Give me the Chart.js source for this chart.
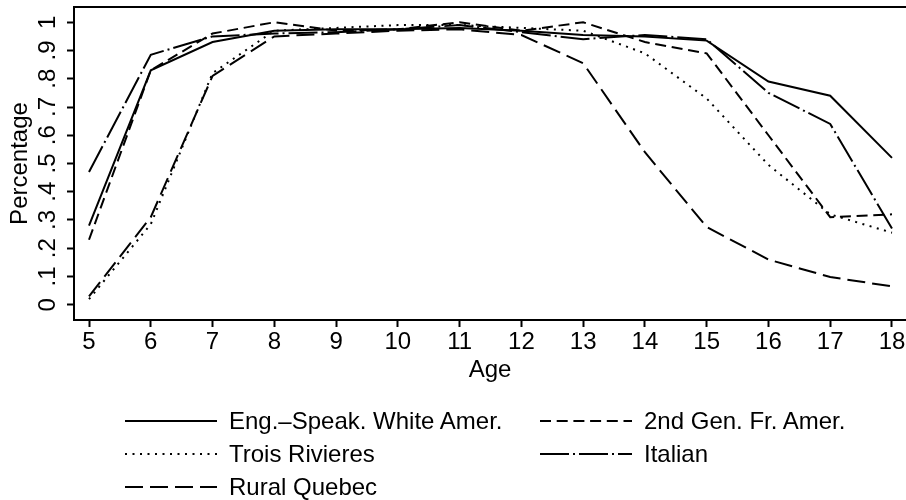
<!DOCTYPE html>
<html>
<head>
<meta charset="utf-8">
<script src="https://cdn.jsdelivr.net/npm/chart.js@4.4.1/dist/chart.umd.min.js"></script>
<style>
  html, body { margin: 0; padding: 0; background: #fff; overflow: hidden; }
  #wrap { position: relative; width: 906px; height: 500px; }
  #legend { position: absolute; left: 125px; top: 404px; display: grid; grid-template-columns: 415px auto;
            font-family: "Liberation Sans", Arial, sans-serif; font-size: 24px; color: #000; }
  .item { display: flex; align-items: center; height: 33px; white-space: nowrap; }
  .item svg { margin-right: 12px; }
</style>
</head>
<body>
<div id="wrap">
  <canvas id="mycanvas"></canvas>
  <div id="legend"></div>
</div>
<script>
var ages = [5, 6, 7, 8, 9, 10, 11, 12, 13, 14, 15, 16, 17, 18];
var engSpeak = [0.28, 0.83, 0.93, 0.97, 0.975, 0.975, 0.98, 0.97, 0.955, 0.95, 0.935, 0.79, 0.74, 0.52];
var secondGen = [0.23, 0.83, 0.96, 1.0, 0.97, 0.975, 1.0, 0.97, 1.0, 0.93, 0.89, 0.6, 0.31, 0.32];
var troisRivieres = [0.02, 0.285, 0.82, 0.97, 0.98, 0.99, 0.99, 0.98, 0.97, 0.89, 0.73, 0.495, 0.32, 0.255];
var italian = [0.47, 0.885, 0.95, 0.96, 0.965, 0.975, 0.99, 0.965, 0.94, 0.955, 0.94, 0.75, 0.64, 0.27];
var ruralQuebec = [0.03, 0.31, 0.81, 0.95, 0.96, 0.97, 0.975, 0.955, 0.855, 0.54, 0.275, 0.16, 0.098, 0.065];

var yTickValues = [0, 0.1, 0.2, 0.3, 0.4, 0.5, 0.6, 0.7, 0.8, 0.9, 1];
var yTickLabels = ['0', '.1', '.2', '.3', '.4', '.5', '.6', '.7', '.8', '.9', '1'];

var FONT = '"Liberation Sans", Arial, sans-serif';

function series(label, values, dash) {
  return {
    label: label,
    data: values.map(function(v, i) { return {x: ages[i], y: v}; }),
    borderColor: '#000',
    backgroundColor: '#000',
    borderWidth: 2,
    borderDash: dash,
    pointRadius: 0,
    tension: 0,
    fill: false
  };
}

// top edge of the plot box
var frame = {
  id: 'frame',
  afterDraw: function(chart) {
    var a = chart.chartArea, c = chart.ctx;
    c.save();
    c.strokeStyle = '#000';
    c.lineWidth = 2;
    c.beginPath();
    c.moveTo(a.left, a.top);
    c.lineTo(a.right, a.top);
    c.stroke();
    c.restore();
  }
};

var ctx = document.getElementById('mycanvas');

var chart = new Chart(ctx, {
  type: 'line',
  data: {
    datasets: [
      series('Eng.\u2013Speak. White Amer.', engSpeak, []),
      series('2nd Gen. Fr. Amer.', secondGen, [11, 5.7]),
      series('Trois Rivieres', troisRivieres, [2, 5.5]),
      series('Italian', italian, [29, 4, 2, 4]),
      series('Rural Quebec', ruralQuebec, [18, 7])
    ]
  },
  plugins: [frame],
  options: {
    responsive: true,
    maintainAspectRatio: false,
    animation: false,
    layout: { padding: { top: 7, right: 0, bottom: 110, left: 0 } },
    font: { family: FONT },
    plugins: {
      legend: { display: false },
      tooltip: { enabled: false }
    },
    scales: {
      x: {
        type: 'linear',
        min: 4.757,
        max: 18.227,
        afterBuildTicks: function(s) { s.ticks = ages.map(function(v) { return {value: v}; }); },
        afterFit: function(s) { s.height = 70; s.paddingLeft = 0; s.paddingRight = 0; },
        border: { color: '#000', width: 2 },
        grid: { drawOnChartArea: false, color: '#000', tickLength: 7, tickWidth: 2 },
        ticks: { padding: 1, color: '#000', autoSkip: false, maxRotation: 0, font: { family: FONT, size: 24 } },
        title: { display: true, text: 'Age', color: '#000', font: { family: FONT, size: 24 }, padding: { top: 0, bottom: 5 } }
      },
      y: {
        min: -0.054,
        max: 1.054,
        afterBuildTicks: function(s) { s.ticks = yTickValues.map(function(v) { return {value: v}; }); },
        afterFit: function(s) { s.width = 74; s.paddingTop = 0; s.paddingBottom = 0; },
        border: { color: '#000', width: 2 },
        grid: { drawOnChartArea: false, color: '#000', tickLength: 7, tickWidth: 2 },
        ticks: {
          minRotation: 90, maxRotation: 90, crossAlign: 'center', padding: 9,
          color: '#000', font: { family: FONT, size: 24 },
          callback: function(value, index) { return yTickLabels[index]; }
        },
        title: { display: true, text: 'Percentage', color: '#000', font: { family: FONT, size: 24 }, padding: { top: 6, bottom: 0 } }
      }
    }
  }
});

// two-column legend like the original
var items = Chart.defaults.plugins.legend.labels.generateLabels(chart);
var html = '';
items.forEach(function(it) {
  var dash = (it.lineDash && it.lineDash.length) ? ' stroke-dasharray="' + it.lineDash.join(' ') + '"' : '';
  html += '<div class="item"><svg width="92" height="6"><line x1="0" y1="3" x2="92" y2="3" stroke="#000" stroke-width="2"' + dash + '/></svg>' +
          '<span>' + it.text + '</span></div>';
});
document.getElementById('legend').innerHTML = html;
</script>
</body>
</html>
